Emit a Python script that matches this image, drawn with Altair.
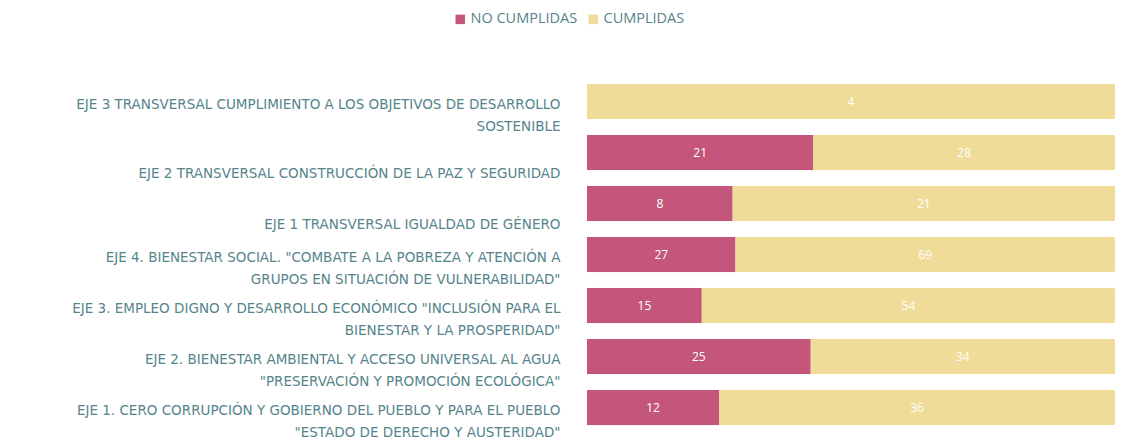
import altair as alt
import pandas as pd

ejes = [
    "EJE 3 TRANSVERSAL CUMPLIMIENTO A LOS OBJETIVOS DE DESARROLLO|SOSTENIBLE",
    "EJE 2 TRANSVERSAL CONSTRUCCIÓN DE LA PAZ Y SEGURIDAD",
    "EJE 1 TRANSVERSAL IGUALDAD DE GÉNERO",
    "EJE 4. BIENESTAR SOCIAL. \"COMBATE A LA POBREZA Y ATENCIÓN A|GRUPOS EN SITUACIÓN DE VULNERABILIDAD\"",
    "EJE 3. EMPLEO DIGNO Y DESARROLLO ECONÓMICO \"INCLUSIÓN PARA EL|BIENESTAR Y LA PROSPERIDAD\"",
    "EJE 2. BIENESTAR AMBIENTAL Y ACCESO UNIVERSAL AL AGUA|\"PRESERVACIÓN Y PROMOCIÓN ECOLÓGICA\"",
    "EJE 1. CERO CORRUPCIÓN Y GOBIERNO DEL PUEBLO Y PARA EL PUEBLO|\"ESTADO DE DERECHO Y AUSTERIDAD\"",
]
no_cumplidas = [0, 21, 8, 27, 15, 25, 12]
cumplidas = [4, 28, 21, 69, 54, 34, 36]
series = ["NO CUMPLIDAS", "CUMPLIDAS"]
colores = ["#c4567c", "#eedc98"]

rows = []
for e, n, c in zip(ejes, no_cumplidas, cumplidas):
    rows.append({"eje": e, "serie": series[0], "orden": 0, "valor": n})
    rows.append({"eje": e, "serie": series[1], "orden": 1, "valor": c})
df = pd.DataFrame(rows)

label_color = "#55848a"

base = alt.Chart(df)

y_enc = alt.Y(
    "eje:N",
    sort=ejes,
    title=None,
    scale=alt.Scale(paddingInner=0.3, paddingOuter=0.15),
    axis=alt.Axis(
        labelExpr="split(datum.label, '|')",
        labelFont="DejaVu Sans",
        labelFontSize=13.5,
        labelColor=label_color,
        labelLimit=700,
        labelPadding=27,
        labelLineHeight=22,
        labelOffset={"condition": {"test": "indexof(datum.value, '|') < 0", "value": 21}, "value": 3},
        ticks=False,
        domain=False,
        grid=False,
        minExtent=579,
        maxExtent=579,
    ),
)

bars = base.mark_bar(cornerRadiusTopRight=2, cornerRadiusBottomRight=2).encode(
    x=alt.X("valor:Q", stack="normalize", axis=None, scale=alt.Scale(domain=[0, 1])),
    y=y_enc,
    color=alt.Color(
        "serie:N",
        scale=alt.Scale(domain=series, range=colores),
        sort=series,
        legend=alt.Legend(
            orient="none",
            legendX=-134,
            legendY=-64,
            direction="horizontal",
            title=None,
            symbolType="square",
            symbolSize=90,
            labelFont="Open Sans",
            labelFontSize=14.5,
            labelColor=label_color,
            labelOffset=3,
            columnPadding=8,
            symbolOpacity=1,
        ),
    ),
    order=alt.Order("orden:Q"),
)

texts = (
    base.transform_joinaggregate(total="sum(valor)", groupby=["eje"])
    .transform_window(cum="sum(valor)", groupby=["eje"], sort=[{"field": "orden"}])
    .transform_calculate(mid="(datum.cum - datum.valor / 2) / datum.total")
    .transform_filter("datum.valor > 0")
    .mark_text(color="white", fontSize=12, font="Open Sans")
    .encode(
        x=alt.X("mid:Q", scale=alt.Scale(domain=[0, 1]), axis=None),
        y=alt.Y("eje:N", sort=ejes),
        text="valor:Q",
    )
)

chart = (
    alt.layer(bars, texts)
    .properties(
        width=528,
        height=357,
        background="white",
        padding={"left": 0, "top": 4, "right": 0, "bottom": 0},
    )
    .configure_view(stroke=None)
)

chart.save("out.html", embed_options={"renderer": "svg", "actions": False})
